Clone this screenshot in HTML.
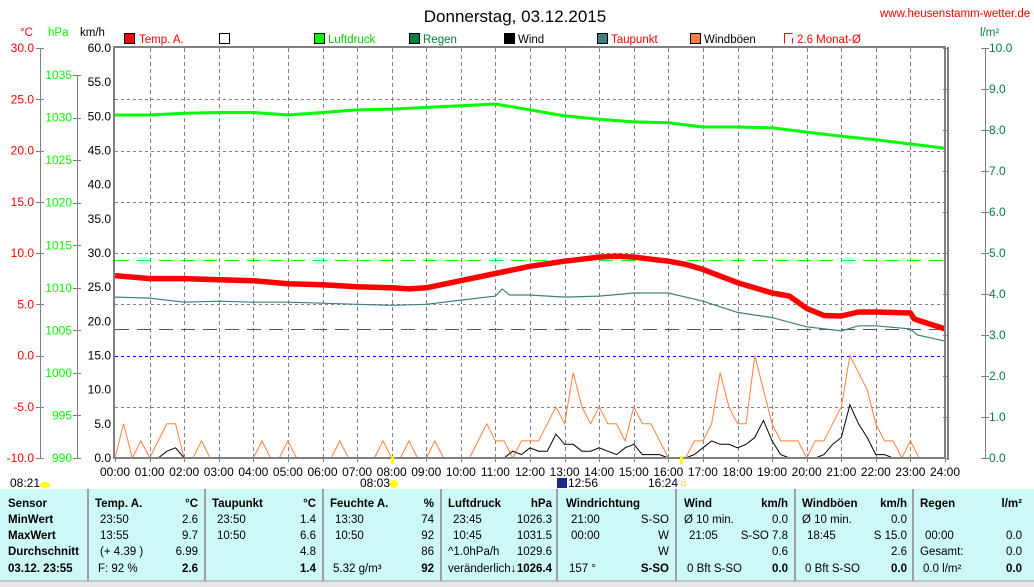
<!DOCTYPE html>
<html><head><meta charset="utf-8"><style>
html,body{margin:0;padding:0;background:#fff;}
svg{display:block;font-family:"Liberation Sans",sans-serif;}
</style></head><body>
<svg id="c" width="1034" height="587" xmlns="http://www.w3.org/2000/svg">
<rect x="0" y="0" width="1034" height="587" fill="#fff"/>
<text x="515" y="22" font-size="17" text-anchor="middle">Donnerstag, 03.12.2015</text>
<text x="880" y="17" font-size="11.5" fill="#f00">www.heusenstamm-wetter.de e</text>
<g font-size="11.5">
 <g><rect x="124.5" y="33.5" width="10" height="10" fill="#f00" stroke="#000"/><text x="139" y="43" fill="#f00">Temp. A.</text></g>
 <g><rect x="219.5" y="33.5" width="10" height="10" fill="#fff" stroke="#000"/></g>
 <g><rect x="314.5" y="33.5" width="10" height="10" fill="#0f0" stroke="#000"/><text x="328" y="43" fill="#0c0">Luftdruck</text></g>
 <g><rect x="409.5" y="33.5" width="10" height="10" fill="#007f3f" stroke="#000"/><text x="423" y="43" fill="#007f3f">Regen</text></g>
 <g><rect x="504.5" y="33.5" width="10" height="10" fill="#000" stroke="#000"/><text x="518" y="43">Wind</text></g>
 <g><rect x="597.5" y="33.5" width="10" height="10" fill="#3f7f7f" stroke="#000"/><text x="611" y="43" fill="#f00">Taupunkt</text></g>
 <g><rect x="690.5" y="33.5" width="10" height="10" fill="#ff7f3f" stroke="#000"/><text x="704" y="43">Windböen</text></g>
 <g><path d="M784.5,43.5 V33.5 H792.5 M792.5,43.5 V38" stroke="#f00" fill="none"/><text x="797" y="43" fill="#f00">2.6 Monat-Ø</text></g>
</g>
<text x="20" y="36" font-size="11.5" fill="#f00">°C</text>
<text x="48" y="36" font-size="11.5" fill="#0f0">hPa</text>
<text x="80" y="36" font-size="11.5">km/h</text>
<text x="980" y="36" font-size="11.5" fill="#007f3f">l/m²</text>
<g id="axes"></g>
<g id="plot"></g>
<g id="table"></g>
</svg>
<script>
const NS="http://www.w3.org/2000/svg";
const hourTicks=["00:00","01:00","02:00","03:00","04:00","05:00","06:00","07:00","08:00","09:00","10:00","11:00","12:00","13:00","14:00","15:00","16:00","17:00","18:00","19:00","20:00","21:00","22:00","23:00","24:00"];
const kmhTicks=[0,5,10,15,20,25,30,35,40,45,50,55,60];
const tempTicks=[-10,-5,0,5,10,15,20,25,30];
const hpaTicks=[990,995,1000,1005,1010,1015,1020,1025,1030,1035];
const rainTicks=[0,1,2,3,4,5,6,7,8,9,10];
const tempTimes=[0,1,2,3,4,5,6,7,8,8.5,9,10,11,12,13,14,14.5,15,16,16.5,17,18,19,19.5,20,20.5,21,21.5,22,23,23.1,23.2,24];
const tempVals=[7.8,7.5,7.5,7.4,7.3,7.0,6.9,6.7,6.6,6.5,6.6,7.3,8.0,8.7,9.2,9.6,9.7,9.6,9.2,8.9,8.4,7.1,6.1,5.8,4.6,3.9,3.85,4.24,4.24,4.15,3.6,3.46,2.6];
const dewTimes=[0,1,2,3,4,5,6,7,8,9,10,11,11.2,11.4,12,13,14,15,16,17,18,19,20,21,21.5,22,23,23.2,24];
const dewVals=[5.7,5.6,5.2,5.3,5.2,5.2,5.1,5.0,4.9,5.0,5.4,5.8,6.5,5.9,5.9,5.7,5.8,6.1,6.1,5.3,4.2,3.7,2.8,2.4,2.9,2.9,2.6,2.0,1.4];
const presTimes=[0,1,2,3,4,5,6,7,8,9,10,11,12,13,14,15,16,17,18,19,20,21,22,23,24];
const presVals=[1030.3,1030.3,1030.5,1030.6,1030.6,1030.3,1030.6,1030.9,1031.0,1031.2,1031.4,1031.6,1030.9,1030.2,1029.8,1029.5,1029.4,1028.9,1028.9,1028.8,1028.3,1027.8,1027.4,1026.9,1026.4];
const gustVals=[0,5,0,2.5, 0,2.5,5,5, 0,0,2.5,0, 0,0,0,0, 0,2.5,0,0, 2.5,0,0,0, 0,0,2.5,0, 0,0,0,2.5, 0,0,2.5,0, 0,2.5,0,0, 0,0,2.5,5, 2.5,2.5,0,2.5, 2.5,2.5,5,7.5, 5,12.5,7.5,5, 7.5,5,5,2.5, 7.5,5,5,2.5, 0,0,0,2.5, 2.5,5,12.5,7.5, 5,5,15,10, 5,2.5,2.5,2.5, 0,2.5,2.5,5, 7.5,15,12.5,10, 5,2.5,2.5,0, 2.5,0,0,0, 0];
const windVals=[0,0,0,0, 0,0,1,1.5, 0,0,0,0, 0,0,0,0, 0,0,0,0, 0,0,0,0, 0,0,0,0, 0,0,0,0, 0,0,0,0, 0,0,0,0, 0,0,0,0, 0,0,1,0.5, 1.5,1,1,3.5, 2,2,1,1, 1.5,1,0.5,1.5, 2,0.5,0.5,0.5, 0,0,0,0.5, 1.5,2.5,2,2, 1.5,2,3,5.5, 2.5,0.5,0,0, 0,0,0.5,2, 3,7.8,5,3, 0.5,0.5,0,0, 0,0,0,0, 0];
const rainVals=[0,0];
const rainTimes=[0,24];
const avgTempLine=2.6, greenRefLine=9.3;

const X=h=>115+h*830/24;
const YK=v=>458-v*410/60;
const YT=t=>458-(t+10)*410/40;
const YP=p=>458-(p-990)*8.51;
const YR=r=>458-r*41;
const C=y=>Math.round(y)+0.5;
const axes=document.getElementById('axes'), plot=document.getElementById('plot');
function mk(tag,attrs,parent,txt){const e=document.createElementNS(NS,tag);for(const k in attrs)e.setAttribute(k,attrs[k]);if(txt!==undefined)e.textContent=txt;parent.appendChild(e);return e;}

let a;
a=mk('line',{x1:40.5,y1:48,x2:40.5,y2:458,stroke:'#808080'},axes);


a=mk('line',{x1:77.5,y1:75,x2:77.5,y2:458,stroke:'#808080'},axes);


a=mk('line',{x1:985.5,y1:48,x2:985.5,y2:458,stroke:'#808080'},axes);


tempTicks.forEach(t=>{const y=C(YT(t));mk('line',{x1:36,y1:y,x2:44,y2:y,stroke:'#808080'},axes);
 const tx=mk('text',{x:34,y:YT(t)+4,'font-size':12,fill:'#f00','text-anchor':'end'},axes,t.toFixed(1));
 
 });
hpaTicks.forEach(p=>{const y=C(YP(p));mk('line',{x1:73,y1:y,x2:81,y2:y,stroke:'#808080'},axes);
 const tx=mk('text',{x:72,y:YP(p)+4,'font-size':12,fill:'#0f0','text-anchor':'end'},axes,String(p));
 
 });
kmhTicks.forEach(v=>{const y=YK(v);
 const tx=mk('text',{x:111,y:y+4,'font-size':12,'text-anchor':'end'},axes,v.toFixed(1));
 
 });
rainTicks.forEach(r=>{const y=C(YR(r));mk('line',{x1:981,y1:y,x2:989,y2:y,stroke:'#808080'},axes);mk('line',{x1:943,y1:y,x2:949,y2:y,stroke:'#808080'},axes);
 const tx=mk('text',{x:989,y:YR(r)+4,'font-size':12,fill:'#007f3f'},axes,r.toFixed(1));
 
 });
hourTicks.forEach((l,i)=>{const x=C(X(i));mk('line',{x1:x,y1:458,x2:x,y2:462,stroke:'#808080'},axes);
 const tx=mk('text',{x:X(i),y:476,'font-size':12,'text-anchor':'middle'},axes,l);
 
 });

for(let i=1;i<24;i++){const x=C(X(i));mk('line',{x1:x,y1:48,x2:x,y2:458,stroke:'#808080','stroke-dasharray':'4,3'},plot);}
tempTicks.forEach(t=>{if(t===0||t===-10||t===30)return;const y=C(YT(t));mk('line',{x1:115,y1:y,x2:945,y2:y,stroke:'#808080','stroke-dasharray':'3,3'},plot);});
a=mk('line',{x1:115,y1:C(YT(0)),x2:945,y2:C(YT(0)),stroke:'#0000ff','stroke-dasharray':'3,3'},plot);


a=mk('line',{x1:115,y1:C(YT(greenRefLine)),x2:945,y2:C(YT(greenRefLine)),stroke:'#0f0','stroke-dasharray':'14,8'},plot);


a=mk('line',{x1:115,y1:C(YT(avgTempLine)),x2:945,y2:C(YT(avgTempLine)),stroke:'#555','stroke-dasharray':'14,8'},plot);



function pts(ts,vs,fy){return ts.map((t,i)=>X(t).toFixed(1)+','+fy(vs[i]).toFixed(1)).join(' ');}
const qTimes=gustVals.map((_,i)=>i/4);
let s;
s=mk('polyline',{points:pts(qTimes,gustVals,YK),fill:'none',stroke:'#ff7f3f','stroke-width':1},plot);


s=mk('polyline',{points:pts(qTimes,windVals,YK),fill:'none',stroke:'#000','stroke-width':1},plot);


s=mk('polyline',{points:pts(rainTimes,rainVals,YR),fill:'none',stroke:'#007f3f','stroke-width':2},plot);


s=mk('polyline',{points:pts(presTimes,presVals,YP),fill:'none',stroke:'#0f0','stroke-width':3},plot);


s=mk('polyline',{points:pts(dewTimes,dewVals,YT),fill:'none',stroke:'#3f7f7f','stroke-width':1.2},plot);


s=mk('polyline',{points:pts(tempTimes,tempVals,YT),fill:'none',stroke:'#f00','stroke-width':5.5,'stroke-linejoin':'round'},plot);



a=mk('rect',{x:114,y:47,width:831,height:411,fill:'none',stroke:'#808080','stroke-width':2},plot);


mk('line',{x1:948,y1:47,x2:948,y2:460,stroke:'#808080','stroke-width':2},plot);
mk('rect',{x:391,y:456,width:3,height:8,fill:'#ff0'},plot);
mk('rect',{x:680,y:456,width:3,height:8,fill:'#ff0'},plot);
a=mk('text',{x:10,y:487,'font-size':12},plot,'08:21');


mk('ellipse',{cx:45,cy:485,rx:5,ry:3,fill:'#ff0'},plot);
a=mk('text',{x:360,y:487,'font-size':12},plot,'08:03');


mk('circle',{cx:394,cy:484,r:4,fill:'#ff0'},plot);
mk('rect',{x:557,y:478,width:10,height:10,fill:'#1a2a8a'},plot);
a=mk('text',{x:568,y:487,'font-size':12},plot,'12:56');


a=mk('text',{x:648,y:487,'font-size':12},plot,'16:24');


mk('rect',{x:681.5,y:481.5,width:4,height:4,fill:'none',stroke:'#ff0'},plot);

const tb=document.getElementById('table');
a=mk('rect',{x:0,y:489,width:1034,height:92,fill:'#ccf8f8'},tb);


mk('rect',{x:0,y:581,width:1034,height:6,fill:'#e8e8e8'},tb);
mk('line',{x1:0,y1:581,x2:1034,y2:581,stroke:'#a0a0a0'},tb);
[88,205,323,441,557,676,795,913].forEach(x=>mk('line',{x1:x,y1:489,x2:x,y2:581,stroke:'#a0a0a0','stroke-width':2},tb));
const rowsY=[507,523,539,555,572];
const col1=["Sensor","MinWert","MaxWert","Durchschnitt","03.12. 23:55"];
col1.forEach((t,i)=>mk('text',{x:8,y:rowsY[i],'font-size':11.5,'font-weight':'bold'},tb,t));
const cols=[
 [95,198,["Temp. A.","23:50","13:55","(+ 4.39 )","F: 92 %"],["°C","2.6","9.7","6.99","2.6"]],
 [212,316,["Taupunkt","23:50","10:50","",""],["°C","1.4","6.6","4.8","1.4"]],
 [330,434,["Feuchte A.","13:30","10:50","","5.32 g/m³"],["%","74","92","86","92"]],
 [448,552,["Luftdruck","23:45","10:45","^1.0hPa/h","veränderlich↓"],["hPa","1026.3","1031.5","1029.6","1026.4"]],
 [566,669,["Windrichtung","21:00","00:00","","157 °"],["","S-SO","W","W","S-SO"]],
 [684,788,["Wind","Ø 10 min.","21:05","","0 Bft S-SO"],["km/h","0.0","S-SO 7.8","0.6","0.0"]],
 [802,907,["Windböen","Ø 10 min.","18:45","","0 Bft S-SO"],["km/h","0.0","S 15.0","2.6","0.0"]],
 [920,1022,["Regen","","00:00","Gesamt:","0.0 l/m²"],["l/m²","","0.0","0.0","0.0"]]
];
cols.forEach(c=>{
 c[2].forEach((t,i)=>{const ind=(i===0||t.startsWith("Ø")||t.startsWith("veränd")||t.startsWith("^")||t.startsWith("Gesamt"))?0:(i===4?3:5);
  mk('text',{x:c[0]+ind,y:rowsY[i],'font-size':11.5,'font-weight':i===0?'bold':'normal'},tb,t);});
 c[3].forEach((t,i)=>mk('text',{x:c[1],y:rowsY[i],'font-size':11.5,'text-anchor':'end','font-weight':(i===0||i===4)?'bold':'normal'},tb,t));
});
</script>
</body></html>
